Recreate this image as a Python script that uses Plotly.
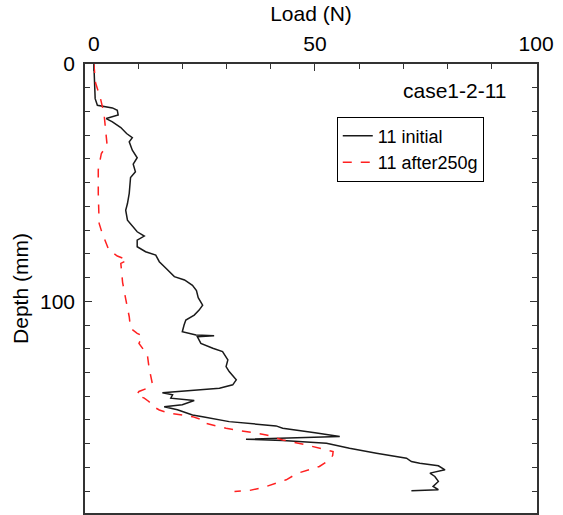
import plotly.graph_objects as go

# Series: initial (black solid)
initial_depth = [0, 5, 10, 14.6, 17.4, 18.5, 19.5, 21.5, 23.0, 24.4, 26.8, 29.3, 31.0, 32.8,
                 36.3, 39.5, 42.2, 45.4, 47.8, 54.5, 58.8, 61.6, 65.8, 70.7, 72.5, 74.2, 77.0,
                 79.1, 80.5, 83.3, 86.1, 89.6, 91.0, 93.3, 95.5, 98.5, 101.6, 103.7, 105.8,
                 107.9, 110.0, 112.8, 114.2, 114.5, 114.9, 117.7, 119.8, 121.2, 124.7, 127.5,
                 129.6, 133.1, 135.2, 136.6, 138.5, 139.4, 140.8, 141.8, 143.6, 144.4, 145.7,
                 147.9, 148.6, 150.7, 152.5, 153.5, 155.4, 157.0, 158.1, 158.7, 159.8, 161.9,
                 164.0, 166.1, 167.5, 168.2, 169.3, 171.0, 172.4, 173.8, 175.9, 178.0, 179.4,
                 179.8]
initial_load = [0.0, 0.1, 0.2, 0.3, 0.8, 4.2, 5.3, 5.5, 2.8, 4.2, 6.1, 7.4, 8.7, 8.0,
                8.7, 9.8, 8.9, 9.4, 8.3, 8.0, 7.6, 7.2, 7.6, 9.8, 11.4, 9.8, 9.8,
                11.7, 14.0, 14.8, 16.3, 18.2, 20.5, 22.3, 23.2, 23.6, 24.6, 23.8, 22.7,
                20.8, 20.4, 20.0, 23.1, 27.2, 23.4, 24.2, 26.9, 29.1, 30.3, 29.9,
                30.6, 32.2, 31.4, 28.4, 15.5, 17.8, 17.4, 22.7, 20.0, 15.9, 18.9,
                22.3, 24.6, 30.6, 41.2, 42.7, 50.0, 55.6, 34.4, 42.7, 52.6, 57.8,
                63.9, 70.7, 71.8, 73.7, 77.9, 79.4, 76.0, 77.1, 77.9, 76.7, 77.9,
                71.8]

# Series: after 250 g (red dashed)
after_depth = [0, 4, 8, 14.6, 20.9, 28.6, 34.2, 37.7, 44.5, 54.5, 67.2, 71.4, 78.4, 80.9,
               82.6, 84.0, 92.0, 99.0, 106.5, 111.4, 113.5, 114.6, 117.7, 122.6, 128.2,
               134.5, 136.6, 138.0, 139.4, 140.8, 142.3, 144.1, 145.8, 147.1, 148.6, 150.0,
               151.3, 153.5, 154.9, 156.3, 158.4, 160.5, 163.3, 165.0, 166.8, 169.6, 172.5,
               175.2, 178.5, 179.7, 180.1]
after_load = [0.0, 0.2, 0.4, 1.5, 2.3, 2.7, 3.0, 1.7, 1.0, 1.0, 1.2, 1.9, 3.4, 5.3,
              7.6, 6.1, 6.5, 7.2, 8.0, 8.3, 9.8, 11.0, 10.2, 12.1, 12.5,
              13.2, 12.1, 10.2, 9.6, 11.4, 12.5, 13.2, 14.8, 17.0, 22.3, 24.6,
              25.0, 29.9, 34.4, 39.0, 42.7, 48.0, 54.1, 54.0, 53.3, 51.0, 46.0,
              43.5, 38.2, 35.2, 31.8]

x_ticks = [0, 50, 100]
y_ticks = [0, 100]

FONT = "Liberation Sans, Arial, sans-serif"

fig = go.Figure()
fig.add_trace(go.Scatter(x=initial_load, y=initial_depth, mode="lines", name="11 initial",
                         line=dict(color="#1a1a1a", width=1.5)))
fig.add_trace(go.Scatter(x=after_load, y=after_depth, mode="lines", name="11 after250g",
                         line=dict(color="#ff2020", width=1.5, dash="dash")))

fig.update_layout(
    width=563, height=515,
    margin=dict(l=85, r=26, t=64, b=2),
    paper_bgcolor="white", plot_bgcolor="white",
    font=dict(family=FONT, size=21, color="black"),
    showlegend=True,
    legend=dict(x=0.557, y=0.883, xanchor="left", yanchor="top",
                bgcolor="white", bordercolor="black", borderwidth=1,
                font=dict(size=18), tracegroupgap=0),
    xaxis=dict(side="top", range=[-2, 100.2], tickvals=x_ticks, automargin=False,
               ticks="inside", ticklen=7, tickwidth=1.2, tickcolor="#333",
               minor=dict(dtick=10, ticks="inside", ticklen=5, tickcolor="#333"),
               showline=True, linecolor="#333", linewidth=1.5, mirror=True,
               showgrid=False, zeroline=False, ticklabelstandoff=3,
               title=dict(text="Load (N)", standoff=4, font=dict(size=21))),
    yaxis=dict(range=[189.2, 0], tickvals=y_ticks, automargin=False,
               ticks="inside", ticklen=7, tickwidth=1.2, tickcolor="#333",
               minor=dict(dtick=10, ticks="inside", ticklen=5, tickcolor="#333"),
               showline=True, linecolor="#333", linewidth=1.5, mirror="ticks",
               showgrid=False, zeroline=False, ticklabelstandoff=4,
               title=dict(text="Depth (mm)", standoff=6, font=dict(size=21))),
    annotations=[dict(text="case1-2-11", xref="paper", yref="paper", x=0.937, y=0.942,
                      xanchor="right", yanchor="middle", showarrow=False,
                      font=dict(size=21))],
)

fig.write_html("out.html", config={"displayModeBar": False},
               post_script="document.body.style.margin='0';document.body.style.padding='0';")
